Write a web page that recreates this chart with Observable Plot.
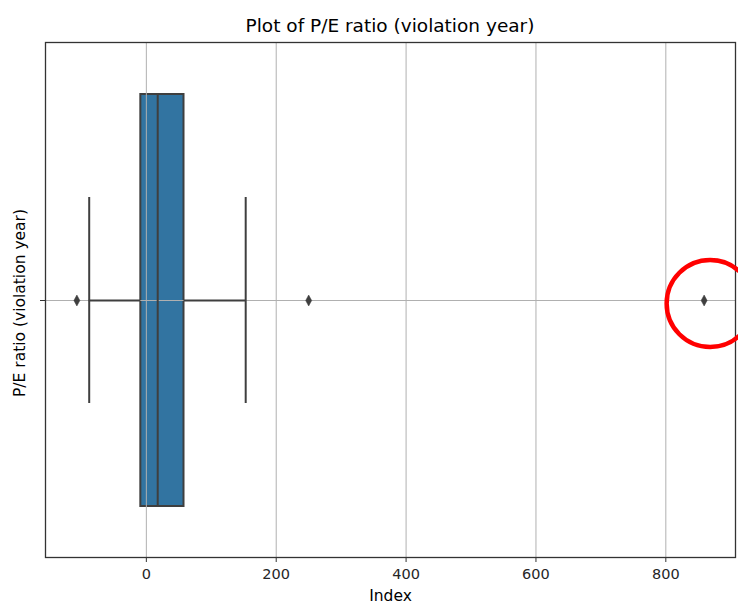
<!DOCTYPE html>
<html>
<head>
<meta charset="utf-8">
<script src="https://cdn.jsdelivr.net/npm/d3@7"></script>
<script src="https://cdn.jsdelivr.net/npm/@observablehq/plot@0.6"></script>
<style>
  body { margin: 0; background: #fff; font-family: "DejaVu Sans", sans-serif; }
  #title { box-sizing: border-box; width: 738px; height: 36px; padding: 15px 3px 0 45px; text-align: center; font-size: 18.5px; line-height: 22px; color: #000; white-space: nowrap; }
</style>
</head>
<body>
<div id="title">Plot of P/E ratio (violation year)</div>
<div id="chart"></div>
<script>
// ---- data ----
const categories = ["P/E ratio (violation year)"];
const q1Values = [-8.5];
const medianValues = [17.5];
const q3Values = [58];
const whiskerLowValues = [-88];
const whiskerHighValues = [153];
const outlierValues = [-107, 250, 859];
const highlightedOutliers = [859];
const xTicks = [0, 200, 400, 600, 800];
const xLabel = "Index";
const yLabel = "P/E ratio (violation year)";

const boxes = categories.map((c, i) => ({
  cat: c, q1: q1Values[i], med: medianValues[i], q3: q3Values[i],
  lo: whiskerLowValues[i], hi: whiskerHighValues[i]
}));
const fliers = outlierValues.map(v => ({cat: categories[0], v}));
const highlighted = highlightedOutliers.map(v => ({cat: categories[0], v}));

// matplotlib-like 5% auto margins
const allVals = [...outlierValues, ...whiskerLowValues, ...whiskerHighValues];
const lo = d3.min(allVals), hi = d3.max(allVals), pad = (hi - lo) * 0.05;

const thinDiamond = {
  draw(context, size) {
    const s = Math.sqrt(size / Math.PI);
    context.moveTo(0, -s * 1.1);
    context.lineTo(s * 0.6, 0);
    context.lineTo(0, s * 1.1);
    context.lineTo(-s * 0.6, 0);
    context.closePath();
  }
};

const lineColor = "#3f3f3f";
const gridColor = "#b0b0b0";

const chart = Plot.plot({
  width: 738,
  height: 568,
  marginTop: 6,
  marginBottom: 47,
  marginLeft: 45,
  marginRight: 3,
  style: { fontFamily: "DejaVu Sans, sans-serif", fontSize: "14.5px", color: "#262626", overflow: "visible", background: "#fff" },
  x: { domain: [lo - pad, hi + pad] },
  y: { domain: categories, paddingInner: 0.2, paddingOuter: 0.1 },
  marks: [
    // box
    Plot.barX(boxes, { x1: "q1", x2: "q3", y: "cat", fill: "#3274a1", stroke: lineColor, strokeWidth: 2 }),
    // grid (above patches, below lines)
    Plot.gridX({ ticks: xTicks, stroke: gridColor, strokeOpacity: 1, strokeWidth: 1 }),
    Plot.gridY({ stroke: gridColor, strokeOpacity: 1, strokeWidth: 1 }),
    // whiskers
    Plot.ruleY(boxes, { y: "cat", x1: "lo", x2: "q1", stroke: lineColor, strokeWidth: 2 }),
    Plot.ruleY(boxes, { y: "cat", x1: "q3", x2: "hi", stroke: lineColor, strokeWidth: 2 }),
    // caps
    Plot.tickX(boxes, { x: "lo", y: "cat", stroke: lineColor, strokeWidth: 2, insetTop: 103, insetBottom: 103 }),
    Plot.tickX(boxes, { x: "hi", y: "cat", stroke: lineColor, strokeWidth: 2, insetTop: 103, insetBottom: 103 }),
    // median
    Plot.tickX(boxes, { x: "med", y: "cat", stroke: lineColor, strokeWidth: 2 }),
    // outliers
    Plot.dot(fliers, { x: "v", y: "cat", r: 5, symbol: thinDiamond, fill: lineColor, stroke: lineColor, strokeWidth: 0.5 }),
    // axes
    Plot.axisX({ ticks: xTicks, tickSize: 5, tickPadding: 6, label: null, stroke: "#333" }),
    Plot.axisY({ tickSize: 5, tickFormat: () => "", label: null, stroke: "#333" }),
    Plot.text([xLabel], { frameAnchor: "bottom", dy: 39, lineAnchor: "middle", textAnchor: "middle", fontSize: 15.5, fill: "#000" }),
    Plot.text([yLabel], { frameAnchor: "left", dx: -25.5, dy: 3, rotate: -90, lineAnchor: "middle", textAnchor: "middle", fontSize: 15.5, fill: "#000" }),
    Plot.frame({ stroke: "#333", strokeWidth: 1.3 }),
    // red highlight circle
    Plot.dot(highlighted, { x: "v", y: "cat", r: 43.5, dx: 6, dy: 3, fill: "none", stroke: "red", strokeWidth: 4.5 })
  ]
});
document.getElementById("chart").appendChild(chart);
</script>
</body>
</html>
